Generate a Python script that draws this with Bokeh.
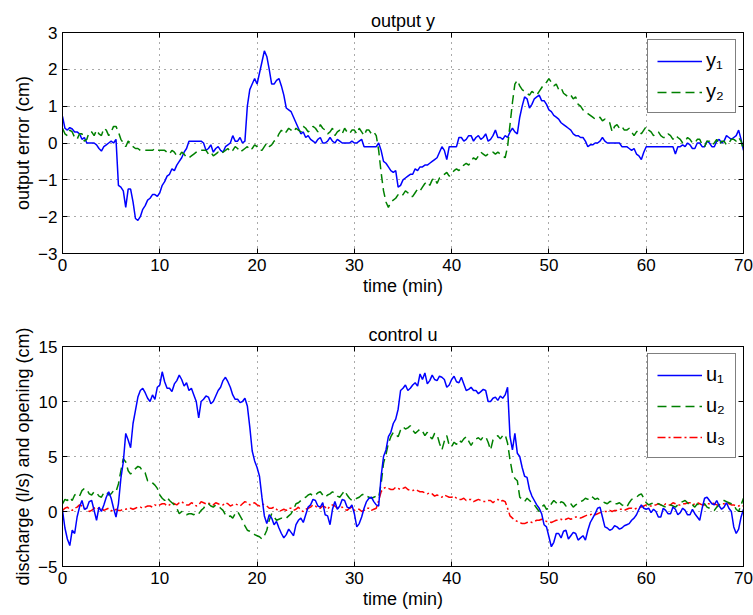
from bokeh.plotting import figure
from bokeh.models import Legend, LegendItem, LinearAxis, FixedTicker, Range1d, Title
from bokeh.layouts import column
from bokeh.embed import file_html
from bokeh.resources import INLINE

time_min = [i * 0.25 for i in range(281)]

y1 = [0.72, 0.40, 0.35, 0.42, 0.38, 0.30, 0.30, 0.25, 0.10, 0.15, 0.00, 0.00, 0.00, 0.00, -0.05, -0.15, -0.22, -0.10, -0.05, 0.00,
      0.05, 0.00, 0.10, -1.15, -1.20, -1.30, -1.75, -1.25, -1.25, -1.60, -2.05, -2.10, -2.00, -1.80, -1.70, -1.55, -1.50, -1.40, -1.40, -1.45,
      -1.35, -1.15, -1.05, -0.90, -0.85, -0.70, -0.75, -0.60, -0.50, -0.40, -0.25, -0.15, 0.05, 0.05, 0.05, 0.05, 0.05, 0.05, 0.00, -0.20,
      -0.15, -0.05, -0.25, -0.15, -0.10, -0.20, -0.25, -0.10, -0.05, 0.00, 0.20, 0.05, 0.05, 0.15, 0.00, 0.05, 1.00, 1.45, 1.60, 1.75,
      1.60, 1.90, 2.20, 2.50, 2.35, 2.00, 1.60, 1.60, 1.70, 1.75, 1.55, 1.30, 0.95, 0.90, 0.85, 0.70, 0.55, 0.40, 0.25, 0.30,
      0.15, 0.20, 0.10, 0.05, 0.00, 0.10, 0.15, 0.00, 0.00, 0.05, 0.15, 0.05, 0.00, 0.10, 0.05, 0.00, 0.00, 0.00, 0.00, 0.05,
      0.00, 0.00, 0.05, 0.10, -0.10, -0.10, -0.10, -0.10, -0.10, -0.10, 0.00, -0.20, -0.50, -0.55, -0.65, -0.75, -0.80, -0.75, -1.20, -1.15,
      -1.00, -0.95, -0.90, -0.85, -0.85, -0.70, -0.75, -0.65, -0.65, -0.60, -0.60, -0.55, -0.50, -0.45, -0.40, -0.25, -0.10, -0.20, -0.45, -0.10,
      -0.10, -0.10, -0.10, 0.15, 0.15, 0.05, 0.10, 0.20, 0.20, 0.05, 0.15, 0.20, 0.10, 0.15, 0.25, 0.05, 0.10, 0.20, 0.35, 0.15,
      0.15, 0.10, 0.20, 0.15, 0.30, 0.40, 0.30, 0.25, 0.70, 1.00, 1.25, 1.20, 0.95, 1.05, 1.20, 1.25, 1.30, 1.15, 1.15, 1.05,
      0.90, 0.85, 0.75, 0.70, 0.65, 0.55, 0.50, 0.45, 0.40, 0.35, 0.25, 0.20, 0.20, 0.15, 0.15, 0.05, -0.10, -0.05, -0.05, 0.00,
      0.00, 0.05, 0.15, 0.05, 0.00, 0.00, 0.00, 0.00, 0.00, 0.00, -0.10, -0.10, -0.10, -0.15, -0.20, -0.15, -0.30, -0.35, -0.45, -0.25,
      -0.10, -0.10, -0.10, -0.10, -0.10, -0.10, -0.10, -0.10, -0.10, -0.10, -0.10, -0.10, -0.30, -0.10, -0.10, -0.05, -0.10, 0.00, -0.05, -0.15,
      -0.15, 0.00, 0.00, -0.10, -0.10, 0.05, 0.00, -0.10, -0.10, 0.05, 0.10, 0.00, 0.05, 0.20, 0.15, 0.10, 0.15, 0.20, 0.35, 0.10,
      -0.20]

y2 = [0.40, 0.25, 0.20, 0.35, 0.30, 0.15, 0.10, 0.25, 0.25, 0.05, 0.10, 0.30, 0.30, 0.20, 0.35, 0.25, 0.20, 0.40, 0.35, 0.20,
      0.30, 0.45, 0.45, 0.30, 0.10, 0.00, -0.10, 0.05, 0.00, -0.10, -0.15, -0.15, -0.20, -0.20, -0.20, -0.20, -0.20, -0.20, -0.15, -0.20,
      -0.20, -0.20, -0.20, -0.25, -0.30, -0.20, -0.25, -0.35, -0.35, -0.25, -0.30, -0.40, -0.40, -0.35, -0.30, -0.25, -0.20, -0.20, -0.20, -0.20,
      -0.30, -0.25, -0.35, -0.30, -0.25, -0.30, -0.25, -0.20, -0.15, -0.25, -0.20, -0.10, -0.15, -0.25, -0.20, -0.15, -0.10, -0.20, -0.15, -0.05,
      -0.10, -0.20, -0.20, -0.10, 0.00, -0.10, -0.05, 0.05, 0.10, 0.25, 0.35, 0.25, 0.30, 0.40, 0.35, 0.30, 0.40, 0.35, 0.30, 0.45,
      0.40, 0.30, 0.35, 0.45, 0.40, 0.30, 0.50, 0.40, 0.35, 0.25, 0.30, 0.40, 0.20, 0.30, 0.35, 0.25, 0.40, 0.30, 0.25, 0.35,
      0.35, 0.25, 0.40, 0.30, 0.20, 0.35, 0.35, 0.25, 0.30, 0.20, -0.20, -0.80, -1.30, -1.60, -1.75, -1.60, -1.55, -1.50, -1.40, -1.45,
      -1.40, -1.30, -1.35, -1.45, -1.45, -1.35, -1.25, -1.30, -1.20, -1.10, -1.05, -1.15, -1.00, -0.95, -1.10, -0.95, -0.90, -0.85, -0.80, -0.90,
      -0.85, -0.75, -0.70, -0.75, -0.65, -0.60, -0.55, -0.60, -0.50, -0.40, -0.45, -0.35, -0.25, -0.30, -0.35, -0.30, -0.30, -0.25, -0.30, -0.25,
      -0.30, -0.35, -0.40, -0.10, 0.50, 1.10, 1.60, 1.70, 1.55, 1.45, 1.40, 1.35, 1.30, 1.40, 1.35, 1.30, 1.40, 1.50, 1.60, 1.65,
      1.75, 1.65, 1.55, 1.60, 1.45, 1.50, 1.35, 1.30, 1.25, 1.30, 1.20, 1.25, 1.05, 1.00, 0.90, 0.85, 0.80, 0.75, 0.70, 0.65,
      0.65, 0.70, 0.60, 0.65, 0.60, 0.55, 0.30, 0.45, 0.50, 0.40, 0.45, 0.35, 0.35, 0.40, 0.30, 0.20, 0.30, 0.35, 0.25, 0.35,
      0.45, 0.35, 0.30, 0.20, 0.25, 0.30, 0.20, 0.15, 0.15, 0.25, 0.20, 0.10, 0.20, 0.15, 0.10, 0.00, 0.05, 0.15, 0.10, 0.00,
      0.00, 0.10, 0.10, -0.05, -0.10, 0.05, 0.05, -0.05, 0.00, 0.10, -0.05, 0.05, 0.05, -0.05, 0.00, 0.10, 0.10, 0.05, 0.15, 0.05,
      -0.20]

u1 = [0.1, -1.5, -2.5, -3.1, -1.7, -2.0, -0.5, 0.4, 1.0, 0.2, 0.3, 0.9, 1.0, 0.1, -0.8, 0.4, 0.0, 0.6, 1.3, 1.8,
      1.2, 0.3, -0.5, 0.7, 3.0, 4.5, 7.1, 6.5, 5.8, 8.0, 9.2, 10.4, 11.0, 11.2, 10.8, 10.3, 10.0, 10.6, 10.2, 11.3,
      11.5, 12.7, 11.8, 11.2, 11.2, 10.9, 11.6, 11.9, 12.4, 12.0, 11.4, 11.7, 11.0, 11.2, 10.6, 10.0, 8.5, 10.0, 10.2, 10.5,
      10.4, 9.8, 10.0, 10.5, 11.0, 11.3, 11.9, 12.2, 11.8, 11.3, 10.6, 10.2, 10.2, 9.9, 10.0, 10.3, 9.6, 7.7, 5.5, 4.6,
      4.0, 3.2, 1.3, -0.4, -1.1, -0.3, -0.6, -1.2, -0.9, -1.5, -2.0, -2.4, -2.1, -1.6, -1.9, -2.2, -1.2, -0.8, -0.6, -1.0,
      -0.3, 0.4, 0.6, 1.1, 1.0, 0.5, 0.4, 0.8, -0.3, -0.4, -1.2, 0.2, 0.9, 0.2, 0.5, 1.1, 1.0, 0.4, 0.3, 0.6,
      -0.2, -1.4, -1.1, -0.5, 0.3, 0.9, 1.2, 1.3, 0.9, 0.6, 0.5, 3.2, 5.0, 5.6, 6.8, 7.2, 8.0, 8.4, 9.3, 11.0,
      11.2, 11.5, 11.0, 11.2, 11.5, 11.7, 11.4, 12.5, 12.0, 12.6, 11.6, 11.9, 12.4, 12.0, 11.9, 12.3, 12.2, 12.0, 11.3, 11.5,
      12.0, 12.3, 11.8, 11.7, 12.2, 11.6, 11.0, 11.1, 11.3, 11.0, 11.0, 10.7, 10.9, 11.1, 11.0, 10.0, 10.0, 10.3, 10.4, 10.1,
      10.5, 10.3, 10.6, 11.3, 6.8, 5.6, 7.1, 5.3, 5.0, 4.0, 3.2, 3.1, 2.0, 1.4, 1.0, 0.6, 0.3, -0.2, -1.2, -1.4,
      -2.3, -3.2, -2.8, -2.0, -2.0, -2.4, -1.8, -1.7, -2.5, -2.2, -1.9, -2.0, -2.6, -2.4, -2.2, -2.6, -1.7, -1.0, -0.6, -0.2,
      0.3, 0.4, -0.5, -1.4, -1.5, -1.7, -1.6, -1.3, -1.4, -1.6, -1.5, -1.3, -1.2, -1.1, -0.8, -0.6, -0.3, 0.2, 0.6, 0.3,
      0.2, 0.3, -0.1, 0.2, 0.0, -0.5, -0.5, 0.3, 0.1, -0.2, -0.2, 0.4, 0.2, -0.3, -0.1, 0.3, 0.1, -0.3, -0.3, 0.2,
      -0.2, -0.5, -0.8, 0.3, 1.2, 1.3, 1.0, 0.7, 0.6, 1.0, 0.5, 0.2, 0.4, 0.8, 0.3, 0.0, -1.4, -2.0, -1.6, -0.5,
      0.2]

u2 = [0.7, 1.1, 1.0, 1.3, 1.0, 1.5, 1.6, 1.4, 1.9, 2.1, 2.0, 1.6, 1.5, 1.8, 1.7, 1.4, 1.3, 1.7, 1.8, 1.5,
      1.6, 1.9, 1.8, 2.5, 3.7, 4.8, 4.5, 3.7, 3.4, 3.7, 3.9, 4.1, 4.0, 3.6, 3.5, 2.8, 2.8, 2.6, 2.4, 2.1,
      1.5, 1.2, 1.0, 1.3, 1.0, 0.8, 0.6, 0.3, -0.2, 0.0, -0.1, -0.3, -0.2, -0.2, -0.3, -0.1, -0.2, 0.1, 0.3, 0.6,
      0.7, 0.5, 0.4, 0.6, 0.5, 0.3, 0.1, -0.3, -0.5, -0.4, -0.6, -0.2, 0.0, -0.4, -0.8, -1.3, -1.7, -1.8, -2.0, -2.1,
      -2.2, -2.3, -2.5, -2.2, -1.7, -0.8, -0.2, -0.5, -0.8, -0.7, -0.6, -0.7, -0.6, -0.4, -0.2, 0.2, 0.7, 0.8, 1.0, 1.2,
      1.3, 1.5, 1.6, 1.4, 1.5, 1.7, 1.8, 1.5, 1.3, 1.5, 1.6, 1.8, 1.6, 1.4, 1.3, 1.6, 1.9, 1.5, 1.2, 1.0,
      1.0, 1.2, 1.3, 1.5, 1.6, 1.4, 1.3, 1.2, 1.3, 1.4, 1.3, 2.5, 4.4, 5.2, 6.2, 6.8, 7.2, 7.0, 6.8, 7.4,
      7.7, 7.5, 7.6, 7.8, 7.4, 7.1, 7.3, 7.5, 7.3, 6.9, 7.2, 6.8, 6.6, 7.1, 7.0, 6.2, 5.6, 6.4, 6.9, 6.0,
      5.9, 6.3, 6.1, 6.5, 6.3, 6.6, 6.8, 6.4, 6.0, 6.4, 6.6, 6.7, 6.5, 6.8, 6.8, 6.3, 5.6, 6.5, 6.7, 6.9,
      6.6, 6.9, 7.0, 6.2, 4.7, 3.5, 3.0, 2.8, 1.3, 1.1, 0.9, 1.2, 1.0, 0.8, 0.6, 0.3, 0.0, 0.4, 0.6, 0.2,
      0.3, 0.7, 1.0, 0.8, 0.6, 0.9, 0.8, 0.5, 0.5, 0.7, 0.4, 0.6, 0.7, 0.9, 1.0, 1.2, 1.1, 1.4, 1.3, 1.1,
      1.2, 1.0, 0.9, 0.8, 0.7, 0.9, 0.9, 0.7, 0.7, 0.8, 0.6, 0.5, 0.4, 0.8, 1.1, 1.2, 1.3, 1.5, 1.6, 1.2,
      0.8, 0.6, 0.7, 0.8, 0.8, 0.7, 0.6, 0.5, 0.4, 0.6, 0.6, 0.5, 0.4, 0.6, 0.8, 0.9, 1.0, 0.8, 0.5, 0.6,
      0.4, 0.7, 0.5, 0.6, 0.7, 0.4, 0.3, 0.1, 0.1, 0.4, 0.6, 0.9, 1.0, 0.9, 0.8, 0.7, 0.6, 0.2, 0.0, 0.6,
      1.2]

u3 = [0.1, 0.3, 0.4, 0.2, 0.1, 0.3, 0.4, 0.6, 0.5, 0.3, 0.2, 0.0, 0.1, 0.3, 0.4, 0.2, 0.3, 0.1, 0.2, 0.3,
      0.1, 0.0, 0.2, 0.1, 0.1, 0.2, 0.2, 0.3, 0.3, 0.2, 0.3, 0.4, 0.4, 0.3, 0.4, 0.5, 0.5, 0.4, 0.6, 0.5,
      0.6, 0.7, 0.7, 0.5, 0.6, 0.8, 0.7, 0.6, 0.8, 0.9, 0.7, 0.6, 0.6, 0.8, 0.7, 0.5, 0.6, 0.9, 0.8, 0.7,
      0.8, 0.6, 0.6, 0.8, 0.7, 0.6, 0.6, 0.8, 0.7, 0.5, 0.6, 0.7, 0.6, 0.5, 0.7, 0.9, 0.8, 0.6, 0.7, 0.8,
      0.6, 0.5, 0.7, 0.6, 0.5, 0.3, 0.3, 0.4, 0.2, 0.0, 0.1, 0.2, 0.1, 0.3, 0.3, 0.1, 0.2, 0.4, 0.1, 0.0,
      0.2, 0.3, 0.4, 0.6, 0.5, 0.3, 0.3, 0.5, 0.4, 0.2, 0.5, 0.6, 0.5, 0.3, 0.3, 0.4, 0.2, 0.1, 0.3, 0.4,
      0.1, 0.2, 0.2, 0.0, 0.1, 0.3, 0.3, 0.1, 0.2, 0.3, 1.0, 1.8, 2.1, 2.2, 2.1, 2.0, 2.0, 2.2, 2.1, 2.0,
      2.1, 2.2, 2.0, 1.9, 1.9, 2.0, 1.9, 1.8, 1.8, 1.7, 1.6, 1.7, 1.6, 1.4, 1.5, 1.4, 1.3, 1.5, 1.4, 1.3,
      1.3, 1.4, 1.2, 1.1, 1.1, 1.2, 1.0, 1.1, 1.1, 0.9, 1.0, 1.1, 1.0, 0.9, 0.9, 1.0, 1.0, 0.8, 1.0, 1.1,
      0.9, 1.0, 0.9, 0.3, -0.4, -0.6, -0.8, -0.9, -1.0, -1.1, -1.1, -1.0, -0.9, -1.0, -0.9, -0.8, -0.8, -0.7, -0.8, -0.9,
      -0.9, -1.0, -0.9, -0.8, -0.8, -0.7, -0.8, -0.7, -0.6, -0.7, -0.6, -0.5, -0.5, -0.6, -0.5, -0.4, -0.3, -0.3, -0.2, -0.3,
      -0.2, -0.1, -0.1, 0.0, 0.0, 0.1, 0.0, 0.1, 0.1, 0.2, 0.2, 0.1, 0.2, 0.3, 0.3, 0.2, 0.3, 0.4, 0.4, 0.5,
      0.6, 0.5, 0.5, 0.6, 0.6, 0.7, 0.6, 0.5, 0.7, 0.6, 0.6, 0.8, 0.7, 0.6, 0.6, 0.7, 0.7, 0.8, 0.8, 0.6,
      0.7, 0.8, 0.7, 0.6, 0.6, 0.7, 0.7, 0.8, 0.7, 0.6, 0.6, 0.7, 0.7, 0.8, 0.7, 0.6, 0.6, 0.5, 0.5, 0.6,
      0.5]

x_ticks = [0, 10, 20, 30, 40, 50, 60, 70]
y_top_ticks = [-3, -2, -1, 0, 1, 2, 3]
y_bot_ticks = [-5, 0, 5, 10, 15]

FONT = "Liberation Sans"
BLUE, GREEN, RED = "#0000FF", "#008000", "#FF0000"


def minus_labels(ticks):
    return {t: (("\u2212" + str(abs(t))) if t < 0 else str(t)) for t in ticks}


def make_fig(title, ylabel, yr, yticks, frame_h, top, bottom):
    p = figure(frame_width=681, frame_height=frame_h,
               x_range=Range1d(0, 70), y_range=Range1d(*yr),
               output_backend="svg", toolbar_location=None,
               min_border_left=62, min_border_right=10,
               min_border_top=top, min_border_bottom=bottom,
               background_fill_color="white", border_fill_color="white")
    p.title = Title(text=title, align="center", text_font=FONT,
                    text_font_size="18px", text_font_style="normal",
                    text_color="black", standoff=4)
    p.outline_line_color = "black"
    p.outline_line_width = 1
    p.outline_line_alpha = 1

    p.xaxis.ticker = FixedTicker(ticks=x_ticks)
    p.yaxis.ticker = FixedTicker(ticks=yticks)
    p.yaxis.major_label_overrides = minus_labels(yticks)
    p.xaxis.axis_label = "time (min)"
    p.yaxis.axis_label = ylabel
    for ax in (p.xaxis[0], p.yaxis[0]):
        ax.major_tick_in = 5
        ax.major_tick_out = 0
        ax.minor_tick_line_color = None
        ax.axis_line_color = "black"
        ax.major_tick_line_color = "black"
        ax.major_label_text_font = FONT
        ax.major_label_text_font_size = "17px"
        ax.major_label_text_color = "black"
        ax.axis_label_text_font = FONT
        ax.axis_label_text_font_size = "18px"
        ax.axis_label_text_font_style = "normal"
        ax.axis_label_text_color = "black"
        ax.axis_label_standoff = 2
        ax.major_label_standoff = 5

    # tick marks on the top and right edges (box style)
    for side, ticks in (("right", yticks), ("above", x_ticks)):
        ax = LinearAxis(ticker=FixedTicker(ticks=ticks),
                        major_label_overrides={t: "" for t in ticks},
                        major_tick_in=5, major_tick_out=0,
                        major_label_standoff=0,
                        minor_tick_line_color=None,
                        axis_line_color="black", major_tick_line_color="black")
        p.add_layout(ax, side)

    p.xgrid[0].ticker = FixedTicker(ticks=x_ticks)
    p.ygrid[0].ticker = FixedTicker(ticks=yticks)
    for g in (p.xgrid[0], p.ygrid[0]):
        g.grid_line_color = "#444444"
        g.grid_line_dash = "1 5"
        g.grid_line_width = 1
        g.grid_line_alpha = 0.9
    return p


def add_legend(items, p):
    lg = Legend(items=items, location="top_right",
                label_text_font=FONT, label_text_font_size="20px",
                label_text_color="black",
                glyph_width=45, glyph_height=20, label_height=20,
                label_standoff=4, spacing=8, padding=9, margin=7,
                border_line_color="black", border_line_width=1,
                background_fill_color="white", background_fill_alpha=1)
    p.add_layout(lg)


# ---------------- top: output y ----------------
p1 = make_fig("output y", "output error (cm)", (-3, 3), y_top_ticks, 221, 32, 54)
r_y1 = p1.line(time_min, y1, line_color=BLUE, line_width=1.5)
r_y2 = p1.line(time_min, y2, line_color=GREEN, line_width=1.5, line_dash="9 5")
add_legend([LegendItem(label="y\u2081", renderers=[r_y1]),
            LegendItem(label="y\u2082", renderers=[r_y2])], p1)

# ---------------- bottom: control u ----------------
p2 = make_fig("control u", "discharge (l/s) and opening (cm)", (-5, 15), y_bot_ticks, 220, 39, 49)
r_u3 = p2.line(time_min, u3, line_color=RED, line_width=1.5, line_dash="8 3 2 3")
r_u2 = p2.line(time_min, u2, line_color=GREEN, line_width=1.5, line_dash="9 5")
r_u1 = p2.line(time_min, u1, line_color=BLUE, line_width=1.5)
add_legend([LegendItem(label="u\u2081", renderers=[r_u1]),
            LegendItem(label="u\u2082", renderers=[r_u2]),
            LegendItem(label="u\u2083", renderers=[r_u3])], p2)

layout = column(p1, p2, spacing=0)
open("out.html", "w").write(file_html(layout, INLINE))
